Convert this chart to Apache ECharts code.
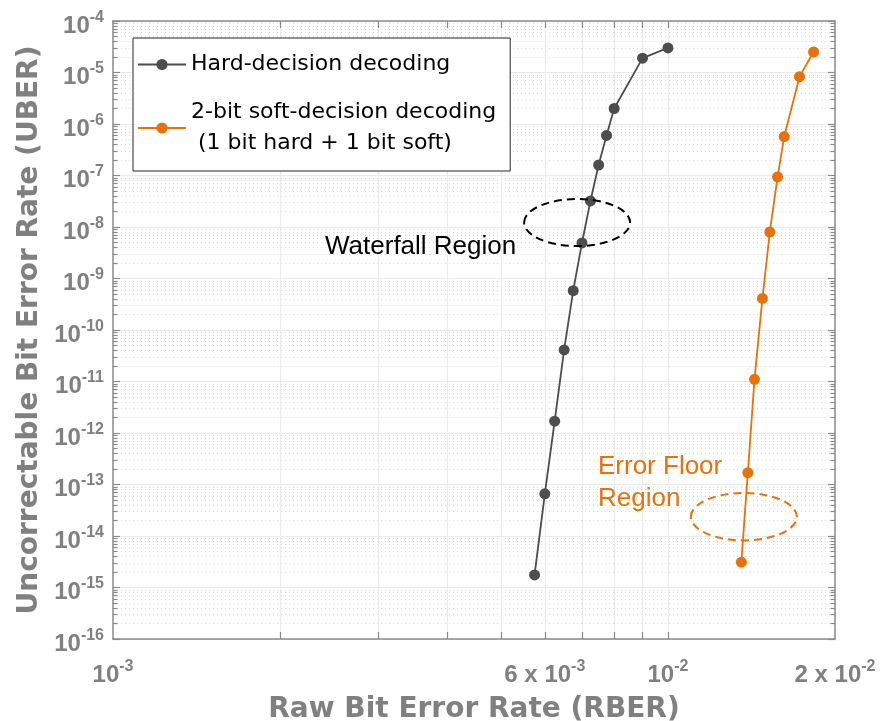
<!DOCTYPE html>
<html><head><meta charset="utf-8">
<script src="https://cdn.jsdelivr.net/npm/echarts@6/dist/echarts.min.js"></script>
<style>html,body{margin:0;padding:0;background:#fff}#c{width:882px;height:721px}</style>
</head><body><div id="c"></div>
<script>
// ---- data ----
const hardX = [0.00575, 0.006, 0.00625, 0.0065, 0.00675, 0.007, 0.00725, 0.0075, 0.00775, 0.008, 0.009, 0.01];
const hardY = [1.75e-15, 6.6e-14, 1.7e-12, 4.1e-11, 5.8e-10, 4.9e-9, 3.2e-8, 1.6e-7, 6.0e-7, 2.0e-6, 1.9e-5, 3.0e-5];
const softX = [0.01356, 0.01393, 0.01432, 0.0148, 0.01526, 0.01576, 0.0162, 0.01726, 0.0183];
const softY = [3.1e-15, 1.7e-13, 1.1e-11, 4.1e-10, 8.0e-9, 9.4e-8, 5.7e-7, 8.3e-6, 2.5e-5];
const hardName = 'Hard-decision decoding';
const softName = '2-bit soft-decision decoding\n (1 bit hard + 1 bit soft)';
const xLabelValues = [0.001, 0.006, 0.01, 0.02];
const xTickValues = [0.002, 0.003, 0.004, 0.005, 0.006, 0.007, 0.008, 0.009, 0.01];
const yLabelValues = [1e-16, 1e-15, 1e-14, 1e-13, 1e-12, 1e-11, 1e-10, 1e-9, 1e-8, 1e-7, 1e-6, 1e-5, 1e-4];
const yMinorValues = [];
for (let e = -16; e < -4; e++) for (let k = 2; k <= 9; k++) yMinorValues.push(k * Math.pow(10, e));

const GRAY = '#4d4d4d', ORANGE = '#e8710a', AX = '#8a8a8a', LBL = '#808080';
const rich = {
  m: {fontFamily: 'Liberation Sans, Arial', fontWeight: 'bold', fontSize: 24, color: LBL, padding: [10, 0, 0, 0]},
  s: {fontFamily: 'Liberation Sans, Arial', fontWeight: 'bold', fontSize: 16, color: LBL, padding: [0, 0, 7, 0]}
};
function fmt(v) {
  const e = Math.floor(Math.log10(v) + 1e-9);
  const m = Math.round(v / Math.pow(10, e));
  return (m === 1 ? '{m|10}' : '{m|' + m + ' x 10}') + '{s|' + e + '}';
}
const xBase = {type: 'log', logBase: 10, min: 0.001, max: 0.02, gridIndex: 0};
const yBase = {type: 'log', logBase: 10, min: 1e-16, max: 1e-4, gridIndex: 0};
const axLine = {show: true, lineStyle: {color: AX, width: 1.5}};

const chart = echarts.init(document.getElementById('c'));
chart.setOption({
  animation: false,
  backgroundColor: '#fff',
  grid: {left: 113, top: 21, right: 47, bottom: 82, containLabel: false, outerBoundsMode: 'none'},
  legend: {
    orient: 'vertical', left: 133, top: 38, padding: [11, 14, 12, 4], itemGap: 17,
    itemWidth: 48, itemHeight: 14, backgroundColor: '#fff', borderColor: '#262626', borderWidth: 1,
    textStyle: {fontFamily: 'DejaVu Sans', fontSize: 22, color: '#000', lineHeight: 31},
    data: [hardName, softName]
  },
  xAxis: [
    Object.assign({}, xBase, {
      position: 'bottom',
      name: 'Raw Bit Error Rate (RBER)', nameLocation: 'middle', nameGap: 57,
      nameTextStyle: {fontFamily: 'DejaVu Sans', fontWeight: 'bold', fontSize: 28, color: LBL},
      axisLine: axLine,
      axisTick: {show: true, inside: true, length: 7, customValues: xTickValues, lineStyle: {color: AX, width: 1.2}},
      axisLabel: {show: true, margin: 14, customValues: xLabelValues, formatter: fmt, rich: rich},
      splitLine: {show: true, customValues: xTickValues, lineStyle: {color: '#ebebeb', width: 1.2}}
    }),
    Object.assign({}, xBase, {
      position: 'top',
      axisLine: axLine,
      axisTick: {show: true, inside: true, length: 7, customValues: xTickValues, lineStyle: {color: AX, width: 1.2}},
      axisLabel: {show: false}, splitLine: {show: false}
    })
  ],
  yAxis: [
    Object.assign({}, yBase, {
      position: 'left',
      name: 'Uncorrectable Bit Error Rate (UBER)', nameLocation: 'middle', nameGap: 69, nameRotate: 90,
      nameTextStyle: {fontFamily: 'DejaVu Sans', fontWeight: 'bold', fontSize: 28, color: LBL},
      axisLine: axLine,
      axisTick: {show: true, inside: true, length: 7, customValues: yLabelValues, lineStyle: {color: AX, width: 1.2}},
      axisLabel: {show: true, margin: 9, customValues: yLabelValues, formatter: fmt, rich: rich},
      splitLine: {show: true, customValues: yLabelValues, lineStyle: {color: '#ebebeb', width: 1.2}}
    }),
    Object.assign({}, yBase, {
      position: 'left',
      axisLine: {show: false},
      axisTick: {show: true, inside: true, length: 4.5, customValues: yMinorValues, lineStyle: {color: AX, width: 1.2}},
      axisLabel: {show: false},
      splitLine: {show: true, customValues: yMinorValues, lineStyle: {color: '#dcdcdc', width: 1, type: [1, 3]}}
    }),
    Object.assign({}, yBase, {
      position: 'right',
      axisLine: axLine,
      axisTick: {show: true, inside: true, length: 7, customValues: yLabelValues, lineStyle: {color: AX, width: 1.2}},
      axisLabel: {show: false}, splitLine: {show: false}
    }),
    Object.assign({}, yBase, {
      position: 'right',
      axisLine: {show: false},
      axisTick: {show: true, inside: true, length: 4.5, customValues: yMinorValues, lineStyle: {color: AX, width: 1.2}},
      axisLabel: {show: false}, splitLine: {show: false}
    })
  ],
  series: [
    {
      name: hardName, type: 'line', xAxisIndex: 0, yAxisIndex: 0,
      data: hardX.map((x, i) => [x, hardY[i]]),
      symbol: 'circle', symbolSize: 11, showSymbol: true,
      lineStyle: {color: GRAY, width: 1.8}, itemStyle: {color: GRAY}, z: 3
    },
    {
      name: softName, type: 'line', xAxisIndex: 0, yAxisIndex: 0,
      data: softX.map((x, i) => [x, softY[i]]),
      symbol: 'circle', symbolSize: 11, showSymbol: true,
      lineStyle: {color: ORANGE, width: 1.8}, itemStyle: {color: ORANGE}, z: 3
    }
  ]
});

// annotations anchored in data coordinates
const wf = chart.convertToPixel({xAxisIndex: 0, yAxisIndex: 0}, [0.00686, 1.22e-8]);
const ef = chart.convertToPixel({xAxisIndex: 0, yAxisIndex: 0}, [0.0137, 2.37e-14]);
chart.setOption({
  graphic: [
    {type: 'ellipse', z: 10, shape: {cx: wf[0], cy: wf[1], rx: 53, ry: 23.5},
     style: {fill: 'none', stroke: '#000', lineWidth: 2, lineDash: [8, 5]}},
    {type: 'ellipse', z: 10, shape: {cx: ef[0], cy: ef[1], rx: 53, ry: 23.7},
     style: {fill: 'none', stroke: ORANGE, lineWidth: 2, lineDash: [8, 5]}},
    {type: 'text', z: 10, style: {x: 325, y: 247, text: 'Waterfall Region', font: '26px "Liberation Sans", Arial',
     fill: '#000', textVerticalAlign: 'middle'}},
    {type: 'text', z: 10, style: {x: 598, y: 483, text: 'Error Floor\nRegion', font: '26px "Liberation Sans", Arial',
     fill: ORANGE, lineHeight: 32, textVerticalAlign: 'middle'}}
  ]
});
</script></body></html>
